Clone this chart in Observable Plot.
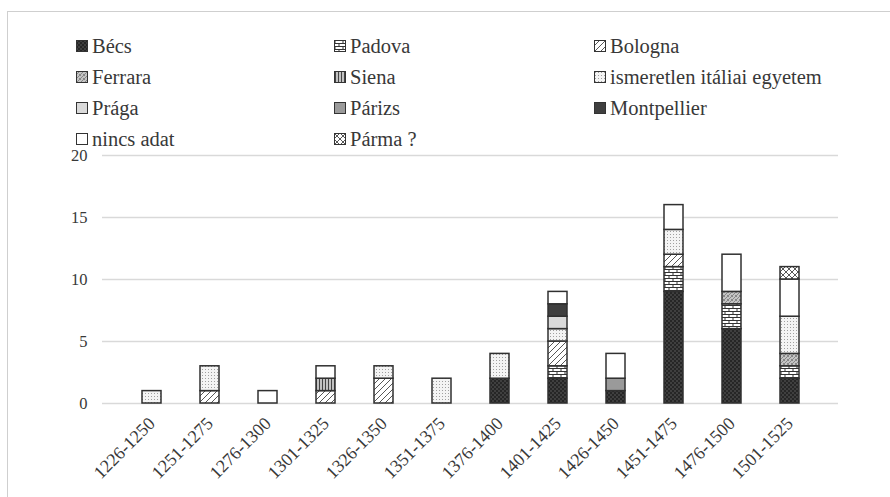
<!DOCTYPE html>
<html>
<head>
<meta charset="utf-8">
<script src="https://cdn.jsdelivr.net/npm/d3@7"></script>
<script src="https://cdn.jsdelivr.net/npm/@observablehq/plot@0.6"></script>
<style>
  body { margin: 0; background: #fff; }
  #wrap { position: relative; width: 890px; height: 497px; overflow: hidden; font-family: "Liberation Serif", "Times New Roman", Tinos, Times, "DejaVu Serif", serif; color: #383838; }
  #frame { position: absolute; left: 7px; top: 11px; width: 900px; height: 500px; border-left: 1.5px solid #cfcfcf; border-top: 1.5px solid #cfcfcf; }
  .lg { position: absolute; display: flex; align-items: center; font-size: 20.5px; white-space: nowrap; line-height: 1; }
  .lg svg { margin-right: 4px; }
  #chart { position: absolute; left: 0; top: 140px; }
  #chart svg text { font-family: "Liberation Serif", "Times New Roman", Tinos, Times, "DejaVu Serif", serif; }
</style>
</head>
<body>
<div id="wrap"><div id="frame"></div><div id="legend"></div><div id="chart"></div></div>
<script>
const periods = ["1226-1250","1251-1275","1276-1300","1301-1325","1326-1350","1351-1375","1376-1400","1401-1425","1426-1450","1451-1475","1476-1500","1501-1525"];
const seriesNames = ["Bécs","Padova","Bologna","Ferrara","Siena","ismeretlen itáliai egyetem","Prága","Párizs","Montpellier","nincs adat","Párma ?"];
const becs        = [0,0,0,0,0,0,2,2,1,9,6,2];
const padova      = [0,0,0,0,0,0,0,1,0,2,2,1];
const bologna     = [0,1,0,1,2,0,0,2,0,1,0,0];
const ferrara     = [0,0,0,0,0,0,0,0,0,0,1,1];
const siena       = [0,0,0,1,0,0,0,0,0,0,0,0];
const ismeretlen  = [1,2,0,0,1,2,2,1,0,2,0,3];
const praga       = [0,0,0,0,0,0,0,1,0,0,0,0];
const parizs      = [0,0,0,0,0,0,0,0,1,0,0,0];
const montpellier = [0,0,0,0,0,0,0,1,0,0,0,0];
const nincsAdat   = [0,0,1,1,0,0,0,1,2,2,3,3];
const parma       = [0,0,0,0,0,0,0,0,0,0,0,1];
const yTicks = [0,5,10,15,20];

const seriesValues = [becs,padova,bologna,ferrara,siena,ismeretlen,praga,parizs,montpellier,nincsAdat,parma];
const data = [];
seriesNames.forEach((s, i) => periods.forEach((p, j) => {
  if (seriesValues[i][j] > 0) data.push({period: p, uni: s, value: seriesValues[i][j]});
}));

const fills = ["url(#p-becs)","url(#p-padova)","url(#p-bologna)","url(#p-ferrara)","url(#p-siena)","url(#p-ism)","#dadada","#9a9a9a","#3f3f3f","#ffffff","url(#p-parma)"];

const patternDefs = `
<pattern id="p-becs" width="4" height="4" patternUnits="userSpaceOnUse">
  <rect width="4" height="4" fill="#262626"/><rect x="0.5" y="0.5" width="1" height="1" fill="#8a8a8a"/><rect x="2.5" y="2.5" width="1" height="1" fill="#8a8a8a"/>
</pattern>
<pattern id="p-padova" width="8" height="6" patternUnits="userSpaceOnUse">
  <rect width="8" height="6" fill="#fff"/>
  <path d="M0,0.5H8M0,3.5H8M1,0.5V3.5M5,3.5V6.5" stroke="#333" stroke-width="1" fill="none"/>
</pattern>
<pattern id="p-bologna" width="6" height="6" patternUnits="userSpaceOnUse">
  <rect width="6" height="6" fill="#fff"/>
  <path d="M-1,7L7,-1M-1,1L1,-1M5,7L7,5" stroke="#444" stroke-width="0.9" fill="none"/>
</pattern>
<pattern id="p-ferrara" width="4" height="4" patternUnits="userSpaceOnUse">
  <rect width="4" height="4" fill="#c4c4c4"/>
  <path d="M0,4L4,0M0,0L1,1M3,3L4,4" stroke="#777" stroke-width="0.8" fill="none"/>
</pattern>
<pattern id="p-siena" width="3" height="3" patternUnits="userSpaceOnUse">
  <rect width="3" height="3" fill="#d0d0d0"/>
  <path d="M1.5,0V3" stroke="#444" stroke-width="1.2"/>
</pattern>
<pattern id="p-ism" width="3" height="3" patternUnits="userSpaceOnUse">
  <rect width="3" height="3" fill="#f4f4f4"/><rect x="1" y="1" width="1" height="1" fill="#a0a0a0"/>
</pattern>
<pattern id="p-parma" width="6" height="6" patternUnits="userSpaceOnUse">
  <rect width="6" height="6" fill="#fff"/>
  <path d="M0,0L6,6M6,0L0,6" stroke="#444" stroke-width="0.9" fill="none"/>
</pattern>`;

const chart = Plot.plot({
  width: 890,
  height: 357,
  marginTop: 15,
  marginBottom: 94,
  marginLeft: 102,
  marginRight: 52,
  style: {fontFamily: "'Liberation Serif', 'Times New Roman', Tinos, Times, serif", color: "#383838", background: "transparent"},
  x: {domain: periods, padding: 0.674, label: null, tickSize: 0, tickRotate: -45, tickPadding: 17},
  y: {domain: [0, 20], ticks: yTicks, label: null, tickSize: 0, tickPadding: 15},
  color: {domain: seriesNames, range: fills},
  marks: [
    Plot.gridY(yTicks, {stroke: "#d9d9d9", strokeOpacity: 1, strokeWidth: 1.5}),
    Plot.barY(data, {x: "period", y: "value", fill: "uni", stroke: "#303030", strokeWidth: 1.5})
  ]
});
chart.insertAdjacentHTML("afterbegin", "<defs>" + patternDefs + "</defs>");
d3.select(chart).selectAll("g[aria-label='y-axis tick label']").style("font-size", "16.5px");
d3.select(chart).selectAll("g[aria-label='x-axis tick label']").style("font-size", "18px");
document.getElementById("chart").appendChild(chart);

// legend
const colX = [76, 334, 594];
const rowY = [46, 77, 108, 139];
const legend = document.getElementById("legend");
seriesNames.forEach((s, i) => {
  const col = i % 3, row = Math.floor(i / 3);
  const div = document.createElement("div");
  div.className = "lg";
  div.style.left = colX[col] + "px";
  div.style.top = (rowY[row] - 11) + "px";
  div.style.height = "22px";
  div.innerHTML = `<svg width="12" height="12"><rect x="0.5" y="0.5" width="11" height="11" fill="${fills[i]}" stroke="#333" stroke-width="1"/></svg><span>${s}</span>`;
  legend.appendChild(div);
});
</script>
</body>
</html>
